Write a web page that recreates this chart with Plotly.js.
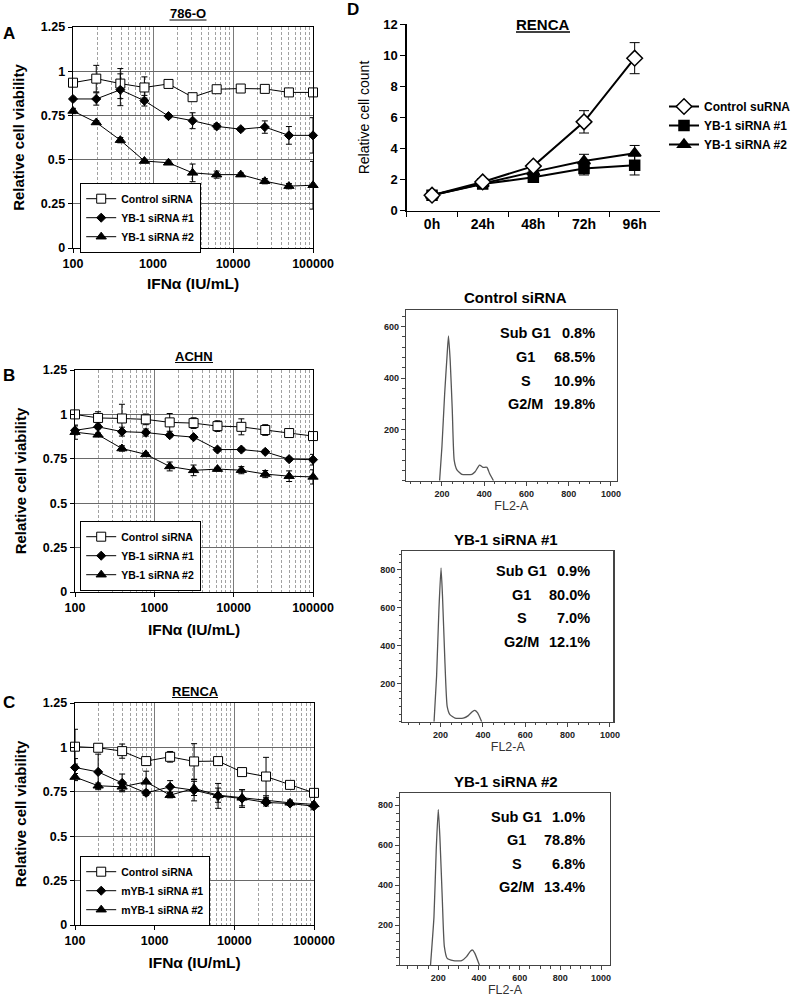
<!DOCTYPE html>
<html><head><meta charset="utf-8">
<script src="https://cdn.plot.ly/plotly-3.0.1.min.js"></script>
<style>html,body{margin:0;padding:0;background:#fff}#chart{width:798px;height:997px}</style>
</head><body><div id="chart"></div>
<script>
const W = 798, H = 997;
const F = 'Arial, "Liberation Sans", sans-serif';

// ---------- Data: IFN dose-response (panels A-C) ----------
const doses = [100, 195.3, 390.6, 781.25, 1562.5, 3125, 6250, 12500, 25000, 50000, 100000];
const doseTickVals = [100, 1000, 10000, 100000];
const doseTickText = ['100', '1000', '10000', '100000'];
const viabTickVals = [0, 0.25, 0.5, 0.75, 1, 1.25];
const viabTickText = ['0', '0.25', '0.5', '0.75', '1', '1.25'];

const ctrlA   = [0.935, 0.958, 0.930, 0.908, 0.928, 0.853, 0.898, 0.902, 0.900, 0.880, 0.880];
const ctrlAerr= [0.01, 0.075, 0.085, 0.06, 0.015, 0.015, 0.01, 0.01, 0.01, 0.01, 0.01];
const yb1A    = [0.843, 0.843, 0.895, 0.833, 0.746, 0.720, 0.688, 0.672, 0.684, 0.637, 0.637];
const yb1Aerr = [0.01, 0.035, 0.09, 0.03, 0.01, 0.045, 0.015, 0.01, 0.035, 0.05, 0.10];
const yb2A    = [0.775, 0.710, 0.610, 0.492, 0.482, 0.425, 0.415, 0.415, 0.378, 0.350, 0.355];
const yb2Aerr = [0.015, 0.01, 0.015, 0.01, 0.01, 0.05, 0.02, 0.01, 0.015, 0.015, 0.135];

const ctrlB   = [1.0, 0.98, 0.977, 0.972, 0.955, 0.951, 0.934, 0.93, 0.912, 0.895, 0.878];
const ctrlBerr= [0.01, 0.035, 0.08, 0.03, 0.05, 0.03, 0.03, 0.045, 0.03, 0.01, 0.01];
const yb1B    = [0.91, 0.93, 0.903, 0.898, 0.883, 0.872, 0.802, 0.802, 0.789, 0.748, 0.745];
const yb1Berr = [0.025, 0.01, 0.025, 0.02, 0.01, 0.01, 0.01, 0.01, 0.01, 0.01, 0.03];
const yb2B    = [0.90, 0.885, 0.808, 0.775, 0.707, 0.685, 0.692, 0.686, 0.664, 0.652, 0.648];
const yb2Berr = [0.04, 0.01, 0.015, 0.01, 0.025, 0.03, 0.01, 0.02, 0.02, 0.03, 0.04];

const ctrlC   = [1.004, 0.998, 0.979, 0.923, 0.947, 0.921, 0.923, 0.861, 0.836, 0.789, 0.744];
const ctrlCerr= [0.098, 0.01, 0.04, 0.01, 0.03, 0.1, 0.01, 0.01, 0.108, 0.01, 0.01];
const yb1C    = [0.887, 0.862, 0.80, 0.744, 0.778, 0.759, 0.727, 0.712, 0.69, 0.684, 0.669];
const yb1Cerr = [0.05, 0.1, 0.05, 0.015, 0.035, 0.06, 0.07, 0.05, 0.02, 0.01, 0.02];
const yb2C    = [0.833, 0.784, 0.778, 0.806, 0.731, 0.769, 0.731, 0.716, 0.699, 0.688, 0.679];
const yb2Cerr = [0.02, 0.015, 0.02, 0.06, 0.015, 0.04, 0.04, 0.045, 0.02, 0.015, 0.015];

// ---------- Data: growth (panel D) ----------
const times   = ['0h', '24h', '48h', '72h', '96h'];
const countTickVals = [0, 2, 4, 6, 8, 10, 12];
const ctrlD   = [1.0, 1.85, 2.87, 5.72, 9.82];
const ctrlDerr= [0.1, 0.12, 0.12, 0.72, 1.0];
const yb1D    = [1.0, 1.72, 2.15, 2.72, 2.92];
const yb1Derr = [0.05, 0.1, 0.1, 0.42, 0.62];
const yb2D    = [1.0, 1.75, 2.5, 3.2, 3.7];
const yb2Derr = [0.05, 0.1, 0.1, 0.43, 0.5];

// ---------- Data: cell-cycle histograms ----------
const flTickVals = [200, 400, 600, 800, 1000];
const histCtrlX = [189, 200, 213, 224, 231, 239, 249, 258, 271, 294, 342, 357, 378, 394, 413, 425, 444];
const histCtrlY = [0, 132, 340, 483, 564, 470, 275, 80, 42, 25, 25, 35, 61, 52, 52, 29, 0];
const hist1X = [169, 181, 192, 202, 209, 220, 231, 244, 268, 307, 331, 351, 362, 375, 394];
const hist1Y = [0, 239, 589, 809, 660, 326, 81, 37, 19, 19, 32, 54, 60, 46, 0];
const hist2X = [162, 179, 190, 200, 208, 220, 230, 244, 274, 315, 339, 359, 369, 380, 402];
const hist2Y = [0, 242, 575, 778, 642, 325, 92, 33, 22, 22, 42, 70, 75, 58, 0];
const phaseLabels = ['Sub G1', 'G1', 'S', 'G2/M'];
const pctCtrl = ['0.8%', '68.5%', '10.9%', '19.8%'];
const pct1    = ['0.9%', '80.0%', '7.0%', '12.1%'];
const pct2    = ['1.0%', '78.8%', '6.8%', '13.4%'];

// ---------- helpers ----------
const px = v => v / W;
const py = v => 1 - v / H;
const dX = (a, b) => [a / W, b / W];
const dY = (top, bottom) => [1 - bottom / H, 1 - top / H];
const bold = (size, color) => ({family: F, size: size, color: color || '#000', weight: 'bold'});

const minorVals = [];
[100, 1000, 10000].forEach(d => { for (let k = 2; k <= 9; k++) minorVals.push(d * k); });

function logAxis(dom, anchor, stand) {
  return {
    type: 'log', domain: dom, anchor: anchor, range: [2, 5],
    tickmode: 'array', tickvals: doseTickVals, ticktext: doseTickText,
    showgrid: true, gridcolor: '#7a7a7a', gridwidth: 1,
    showline: true, linecolor: '#000', linewidth: 1.3, mirror: true,
    ticks: 'outside', ticklen: 4, tickcolor: '#000', zeroline: false,
    tickfont: bold(12.5),
    minor: {tickmode: 'array', tickvals: minorVals, showgrid: true, griddash: '3px,2px',
            gridcolor: '#8a8a8a', gridwidth: 0.8, ticks: ''},
    title: {text: 'IFN\u03b1 (IU/mL)', font: bold(15.5), standoff: stand}
  };
}
function viabAxis(dom, anchor) {
  return {
    domain: dom, anchor: anchor, range: [0, 1.25],
    tickmode: 'array', tickvals: viabTickVals, ticktext: viabTickText,
    showgrid: true, gridcolor: '#6a6a6a', gridwidth: 1,
    showline: true, linecolor: '#000', linewidth: 1.3, mirror: true,
    ticks: 'outside', ticklen: 4, tickcolor: '#000', zeroline: false,
    tickfont: bold(12.5),
    title: {text: 'Relative cell viability', font: bold(15), standoff: 12}
  };
}
function errs(arr, w) {
  return {type: 'data', array: arr, visible: true, color: '#000', thickness: 1, width: w};
}
function doseTrace(name, y, e, sym, size, fill, xa, ya, leg) {
  return {
    type: 'scatter', mode: 'lines+markers', name: name, x: doses, y: y,
    xaxis: xa, yaxis: ya, legend: leg, cliponaxis: false,
    line: {color: '#000', width: 1},
    marker: {symbol: sym, size: size, color: fill, line: {color: '#000', width: 1}},
    error_y: errs(e, 3)
  };
}

const traces = [
  doseTrace('Control siRNA', ctrlA, ctrlAerr, 'square', 9, '#fff', 'x', 'y', 'legend'),
  doseTrace('YB-1 siRNA #1', yb1A, yb1Aerr, 'diamond', 7, '#000', 'x', 'y', 'legend'),
  doseTrace('YB-1 siRNA #2', yb2A, yb2Aerr, 'triangle-up', 9, '#000', 'x', 'y', 'legend'),
  doseTrace('Control siRNA', ctrlB, ctrlBerr, 'square', 9, '#fff', 'x2', 'y2', 'legend2'),
  doseTrace('YB-1 siRNA #1', yb1B, yb1Berr, 'diamond', 7, '#000', 'x2', 'y2', 'legend2'),
  doseTrace('YB-1 siRNA #2', yb2B, yb2Berr, 'triangle-up', 9, '#000', 'x2', 'y2', 'legend2'),
  doseTrace('Control siRNA', ctrlC, ctrlCerr, 'square', 9, '#fff', 'x3', 'y3', 'legend3'),
  doseTrace('mYB-1 siRNA #1', yb1C, yb1Cerr, 'diamond', 7, '#000', 'x3', 'y3', 'legend3'),
  doseTrace('mYB-1 siRNA #2', yb2C, yb2Cerr, 'triangle-up', 9, '#000', 'x3', 'y3', 'legend3'),
];

function growthTrace(name, y, e, sym, size, fill, rank) {
  return {
    type: 'scatter', mode: 'lines+markers', name: name, x: times, y: y,
    xaxis: 'x4', yaxis: 'y4', legend: 'legend4', legendrank: rank, cliponaxis: false,
    line: {color: '#000', width: 2},
    marker: {symbol: sym, size: size, color: fill, line: {color: '#000', width: 1.5}},
    error_y: errs(e, 5)
  };
}
traces.push(growthTrace('YB-1 siRNA #1', yb1D, yb1Derr, 'square', 10, '#000', 2));
traces.push(growthTrace('YB-1 siRNA #2', yb2D, yb2Derr, 'triangle-up', 11, '#000', 3));
traces.push(growthTrace('Control suRNA', ctrlD, ctrlDerr, 'diamond', 12, '#fff', 1));

function histTrace(x, y, xa, ya) {
  return {type: 'scatter', mode: 'lines', x: x, y: y, xaxis: xa, yaxis: ya, showlegend: false,
          line: {color: '#555', width: 1.3, shape: 'spline', smoothing: 0.5}, hoverinfo: 'skip'};
}
traces.push(histTrace(histCtrlX, histCtrlY, 'x5', 'y5'));
traces.push(histTrace(hist1X, hist1Y, 'x6', 'y6'));
traces.push(histTrace(hist2X, hist2Y, 'x7', 'y7'));

function histXAxis(dom, anchor, range, stand) {
  return {
    domain: dom, anchor: anchor, range: range,
    tickmode: 'array', tickvals: flTickVals, ticktext: flTickVals.map(String),
    showline: true, mirror: true, linecolor: '#444', linewidth: 1.2,
    ticks: 'outside', ticklen: 4, tickcolor: '#444', showgrid: false, zeroline: false,
    minor: {tickmode: 'linear', tick0: 0, dtick: 50, ticks: 'outside', ticklen: 2.5, tickcolor: '#444', showgrid: false},
    tickfont: bold(9, '#222'),
    title: {text: 'FL2-A', font: {family: F, size: 12.5, color: '#333'}, standoff: stand}
  };
}
function histYAxis(dom, anchor, range, ticks) {
  return {
    domain: dom, anchor: anchor, range: range,
    tickmode: 'array', tickvals: ticks, ticktext: ticks.map(String),
    showline: true, mirror: true, linecolor: '#444', linewidth: 1.2,
    ticks: 'outside', ticklen: 4, tickcolor: '#444', showgrid: false, zeroline: false,
    minor: {tickmode: 'linear', tick0: 0, dtick: 40, ticks: 'outside', ticklen: 2.5, tickcolor: '#444', showgrid: false},
    tickfont: bold(9, '#222')
  };
}

const annotations = [];
function ann(text, x, y, font, xanchor) {
  annotations.push({xref: 'paper', yref: 'paper', x: px(x), y: py(y), text: text, showarrow: false,
                    xanchor: xanchor || 'center', yanchor: 'middle', font: font});
}
// panel letters
ann('A', 9, 33, bold(17)); ann('B', 9, 376, bold(17)); ann('C', 9, 702, bold(17)); ann('D', 353, 9, bold(17));
// panel titles
ann('786-O', 188, 13.5, bold(13));
ann('ACHN', 194, 356, bold(13));
ann('RENCA', 195, 691, bold(13));
ann('RENCA', 543, 24, bold(15));
// histogram titles
ann('Control siRNA', 515.5, 298, bold(15));
ann('YB-1 siRNA #1', 505.7, 539.3, bold(15));
ann('YB-1 siRNA #2', 505.7, 781.7, bold(15));
function phaseBlock(rows, cx, rx, pcts) {
  rows.forEach((yy, i) => {
    ann(phaseLabels[i], cx, yy, bold(14.5));
    ann(pcts[i], rx, yy, bold(14.5), 'right');
  });
}
phaseBlock([332.7, 357.3, 380.7, 404.3], 525.7, 596.7, pctCtrl);
phaseBlock([571, 595, 618.3, 642.3], 521.7, 592.3, pct1);
phaseBlock([816.7, 840, 864, 887.3], 516.7, 587.3, pct2);

function uline(x0, x1, y, w) {
  return {type: 'line', xref: 'paper', yref: 'paper', x0: px(x0), x1: px(x1), y0: py(y), y1: py(y),
          line: {color: '#000', width: w || 1.2}};
}
const shapes = [
  uline(169.5, 206.5, 20), uline(175, 213, 362.5), uline(172, 218, 697.5), uline(516, 570, 32, 1.5)
];

function legendBox(top) {
  return {x: px(80), y: py(top), xanchor: 'left', yanchor: 'top', bgcolor: '#fff',
          bordercolor: '#000', borderwidth: 1.2, font: bold(10.5), itemwidth: 30, tracegroupgap: 0};
}

const layout = {
  width: W, height: H, margin: {l: 0, r: 0, t: 0, b: 0},
  paper_bgcolor: '#fff', plot_bgcolor: '#fff', font: {family: F, color: '#000'},
  xaxis: logAxis(dX(73, 313), 'y', 8),
  yaxis: viabAxis(dY(27, 248), 'x'),
  xaxis2: logAxis(dX(75, 313), 'y2', 10),
  yaxis2: viabAxis(dY(370, 592), 'x2'),
  xaxis3: logAxis(dX(75, 314), 'y3', 10),
  yaxis3: viabAxis(dY(703, 925), 'x3'),
  xaxis4: {type: 'category', domain: dX(406.7, 660), anchor: 'y4', range: [-0.5, 4.5],
           showline: true, linecolor: '#000', linewidth: 1.3, ticks: 'outside', tickson: 'boundaries',
           ticklen: 5, tickcolor: '#000', showgrid: false, zeroline: false, tickfont: bold(14)},
  yaxis4: {domain: dY(24.3, 210.7), anchor: 'x4', range: [0, 12], tickmode: 'array', tickvals: countTickVals,
           showline: true, linecolor: '#000', linewidth: 1.3, ticks: 'outside', ticklen: 5, tickcolor: '#000',
           showgrid: false, zeroline: false, tickfont: bold(13),
           title: {text: 'Relative cell count', font: {family: F, size: 14, color: '#000'}, standoff: 10}},
  xaxis5: histXAxis(dX(406, 616.7), 'y5', [30, 1027], 3),
  yaxis5: histYAxis(dY(310, 480.7), 'x5', [0, 665], [200, 400, 600]),
  xaxis6: histXAxis(dX(402.3, 613.3), 'y6', [19, 1016], 3),
  yaxis6: histYAxis(dY(550.7, 721.7), 'x6', [0, 900], [200, 400, 600, 800]),
  xaxis7: histXAxis(dX(400, 610), 'y7', [12, 1044], 0),
  yaxis7: histYAxis(dY(792.7, 965), 'x7', [0, 862], [200, 400, 600, 800]),
  legend: legendBox(183),
  legend2: legendBox(521),
  legend3: legendBox(856),
  legend4: {x: px(664), y: py(92), xanchor: 'left', yanchor: 'top', bgcolor: 'rgba(0,0,0,0)',
            borderwidth: 0, font: bold(12), itemwidth: 30, tracegroupgap: 0},
  annotations: annotations,
  shapes: shapes,
  showlegend: true
};

Plotly.newPlot('chart', traces, layout, {staticPlot: true});
</script>
</body></html>
